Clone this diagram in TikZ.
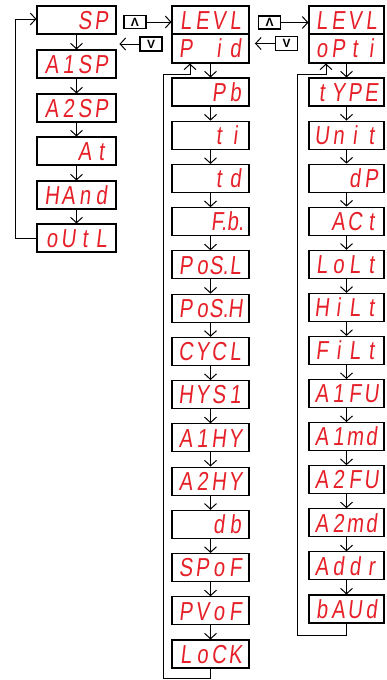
\documentclass[tikz,border=0pt]{standalone}
\usepackage{fontspec}
\setmainfont{Liberation Sans}
\newfontfamily\segfont[FakeStretch=0.78,FakeSlant=0.12]{Liberation Sans}
\usetikzlibrary{arrows.meta}
\definecolor{segred}{RGB}{230,32,40}
\newcommand\segc[1]{\makebox[16.5pt][c]{#1}}
\newcommand\sg[4]{\segc{#1}\segc{#2}\segc{#3}\segc{#4}}
\begin{document}
\begin{tikzpicture}[x=1pt,y=-1pt,
 box/.style={draw, line width=1.1pt, minimum height=28pt, inner sep=0pt,
   text height=18.5pt, text depth=0pt,
   font=\segfont\fontsize{26}{26}\selectfont, text=segred},
 cA/.style={box, minimum width=79pt},
 cB/.style={box, minimum width=77pt},
 cC/.style={box, minimum width=75pt},
 arr/.style={line width=1pt, -{Straight Barb[length=5.5pt,width=12pt]}},
 btn/.style={draw, line width=1.1pt, minimum width=22pt, minimum height=13pt, inner sep=0pt,
   font=\bfseries\fontsize{12}{12}\selectfont}]
\useasboundingbox (0,0) rectangle (387,680);
% column 1
\node[cA] (a1) at (76.5,20)  {\sg{}{}{S}{P}};
\node[cA] (a2) at (76.5,64)  {\sg{A}{1}{S}{P}};
\node[cA] (a3) at (76.5,108) {\sg{A}{2}{S}{P}};
\node[cA] (a4) at (76.5,151) {\sg{}{}{A}{t}};
\node[cA] (a5) at (76.5,195) {\sg{H}{A}{n}{d}};
\node[cA] (a6) at (76.5,238) {\sg{o}{U}{t}{L}};
% column 2
\node[cB] (lev2) at (210.5,20) {\sg{L}{E}{V}{L}};
\node[cB, minimum height=29pt] (pid) at (210.5,48.5) {\sg{P}{}{i}{d}};
\node[cB] (b1)  at (210.5,92)    {\sg{}{}{P}{b}};
\node[cB] (b2)  at (210.5,135.2) {\sg{}{}{t}{i}};
\node[cB] (b3)  at (210.5,178.5) {\sg{}{}{t}{d}};
\node[cB] (b4)  at (210.5,221.7) {\sg{}{}{F.}{b.}};
\node[cB] (b5)  at (210.5,264.9) {\sg{P}{o}{S.}{L}};
\node[cB] (b6)  at (210.5,308.2) {\sg{P}{o}{S.}{H}};
\node[cB] (b7)  at (210.5,351.4) {\sg{C}{Y}{C}{L}};
\node[cB] (b8)  at (210.5,394.6) {\sg{H}{Y}{S}{1}};
\node[cB] (b9)  at (210.5,437.8) {\sg{A}{1}{H}{Y}};
\node[cB] (b10) at (210.5,481.1) {\sg{A}{2}{H}{Y}};
\node[cB] (b11) at (210.5,524.3) {\sg{}{}{d}{b}};
\node[cB] (b12) at (210.5,567.5) {\sg{S}{P}{o}{F}};
\node[cB] (b13) at (210.5,610.8) {\sg{P}{V}{o}{F}};
\node[cB] (b14) at (210.5,654)   {\sg{L}{o}{C}{K}};
% column 3
\node[cC] (lev3) at (346.5,20) {\sg{L}{E}{V}{L}};
\node[cC, minimum height=29pt] (opt) at (346.5,48.5) {\sg{o}{P}{t}{i}};
\node[cC] (d1)  at (346.5,92)    {\sg{t}{Y}{P}{E}};
\node[cC] (d2)  at (346.5,135.1) {\sg{U}{n}{i}{t}};
\node[cC] (d3)  at (346.5,178.2) {\sg{}{}{d}{P}};
\node[cC] (d4)  at (346.5,221.2) {\sg{}{A}{C}{t}};
\node[cC] (d5)  at (346.5,264.3) {\sg{L}{o}{L}{t}};
\node[cC] (d6)  at (346.5,307.4) {\sg{H}{i}{L}{t}};
\node[cC] (d7)  at (346.5,350.5) {\sg{F}{i}{L}{t}};
\node[cC] (d8)  at (346.5,393.6) {\sg{A}{1}{F}{U}};
\node[cC] (d9)  at (346.5,436.6) {\sg{A}{1}{m}{d}};
\node[cC] (d10) at (346.5,479.7) {\sg{A}{2}{F}{U}};
\node[cC] (d11) at (346.5,522.8) {\sg{A}{2}{m}{d}};
\node[cC] (d12) at (346.5,565.9) {\sg{A}{d}{d}{r}};
\node[cC] (d13) at (346.5,609)   {\sg{b}{A}{U}{d}};
% buttons
\node[btn] (up1) at (135,22)   {Λ};
\node[btn, minimum height=14pt] (dn1) at (151,44)   {V};
\node[btn] (up2) at (269.5,22.5) {Λ};
\node[btn, minimum height=14pt] (dn2) at (286.5,43.5) {V};
% column 1 connectors
\foreach \p/\q in {a1/a2,a2/a3,a3/a4,a4/a5,a5/a6}
  \draw[arr] (\p.south) -- (\q.north);
\draw[arr] (a6.west) -- ++(-21,0) |- ([yshift=1pt]a1.west);
% column 2 connectors
\foreach \p/\q in {pid/b1,b1/b2,b2/b3,b3/b4,b4/b5,b5/b6,b6/b7,b7/b8,b8/b9,b9/b10,b10/b11,b11/b12,b12/b13,b13/b14}
  \draw[arr] (\p.south) -- (\q.north);
\draw[arr] (b14.south) -- ++(0,10) -| (163,74) -| ([xshift=-20.5pt]pid.south);
% column 3 connectors
\foreach \p/\q in {opt/d1,d1/d2,d2/d3,d3/d4,d4/d5,d5/d6,d6/d7,d7/d8,d8/d9,d9/d10,d10/d11,d11/d12,d12/d13}
  \draw[arr] (\p.south) -- (\q.north);
\draw[arr] (d13.south) -- ++(0,12) -| (297,74) -| ([xshift=-20.5pt]opt.south);
% button connectors
\draw[arr] (up1.east) -- (up1.east -| lev2.west);
\draw[arr] (dn1.west) -- ++(-20,0);
\draw[arr] (up2.east) -- (up2.east -| lev3.west);
\draw[arr] (dn2.west) -- ++(-20,0);
\end{tikzpicture}
\end{document}
